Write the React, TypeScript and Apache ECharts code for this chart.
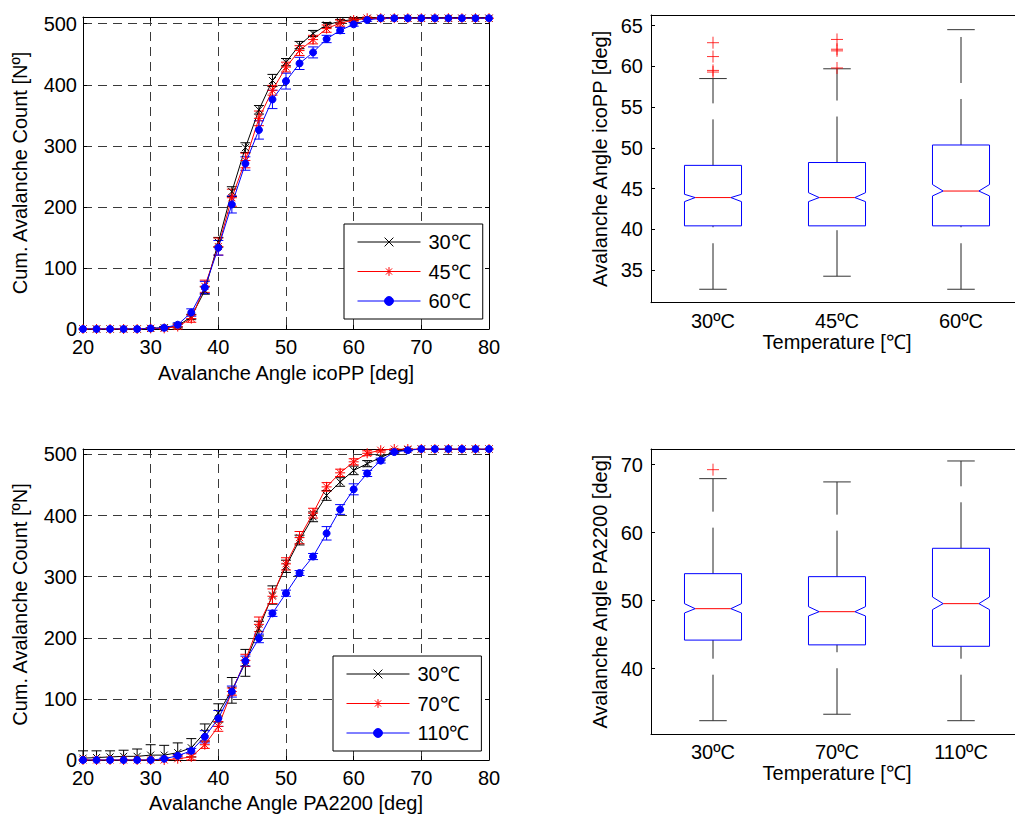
import React, { useEffect, useRef } from 'react';
import * as echarts from 'echarts';

// ---------- data ----------
const angles = [20, 22, 24, 26, 28, 30, 32, 34, 36, 38, 40, 42, 44, 46, 48, 50, 52, 54, 56, 58, 60, 62, 64, 66, 68, 70, 72, 74, 76, 78, 80];

// icoPP cumulative avalanche counts
const ico30 = [0, 0, 0, 0, 0, 1, 2, 5, 20, 63, 142, 225, 297, 359, 407, 437, 465, 484, 498, 504, 507, 509, 509, 509, 509, 509, 509, 509, 509, 509, 509];
const ico30Err = [0, 0, 0, 0, 0, 1, 2, 3, 4, 6, 8, 8, 8, 7, 10, 6, 6, 5, 4, 3, 2, 1, 0, 0, 0, 0, 0, 0, 0, 0, 0];
const ico45 = [0, 0, 0, 0, 0, 1, 1, 4, 17, 70, 135, 215, 276, 345, 391, 429, 456, 474, 492, 501, 506, 509, 509, 509, 509, 509, 509, 509, 509, 509, 509];
const ico45Err = [0, 0, 0, 0, 0, 0, 1, 4, 6, 10, 14, 14, 12, 12, 8, 8, 8, 7, 6, 5, 3, 2, 1, 0, 0, 0, 0, 0, 0, 0, 0];
const ico60 = [0, 0, 0, 0, 0, 1, 2, 7, 27, 68, 133, 204, 271, 326, 376, 406, 435, 453, 475, 489, 499, 506, 509, 509, 509, 509, 509, 509, 509, 509, 509];
const ico60Err = [0, 0, 0, 0, 0, 0, 1, 3, 6, 10, 12, 14, 11, 15, 15, 13, 10, 9, 6, 5, 3, 2, 0, 0, 0, 0, 0, 0, 0, 0, 0];

// PA2200 cumulative avalanche counts
const pa30 = [3, 4, 5, 6, 6, 8, 8, 12, 20, 45, 77, 114, 159, 215, 270, 317, 360, 398, 433, 455, 474, 485, 495, 505, 508, 509, 509, 509, 509, 509, 509];
const pa30Err = [12, 11, 10, 10, 12, 17, 16, 16, 15, 14, 15, 21, 22, 12, 15, 10, 8, 8, 8, 7, 7, 5, 4, 2, 1, 0, 0, 0, 0, 0, 0];
const pa70 = [0, 0, 0, 0, 0, 0, 0, 2, 5, 25, 55, 112, 163, 222, 268, 321, 364, 404, 447, 470, 488, 502, 507, 509, 509, 509, 509, 509, 509, 509, 509];
const pa70Err = [0, 0, 0, 0, 0, 0, 0, 5, 5, 6, 8, 6, 10, 12, 12, 10, 10, 8, 7, 6, 5, 4, 3, 2, 1, 0, 0, 0, 0, 0, 0];
const pa110 = [0, 0, 0, 0, 0, 0, 2, 7, 15, 38, 68, 112, 162, 199, 240, 273, 306, 333, 371, 410, 443, 469, 490, 504, 507, 509, 509, 509, 509, 509, 509];
const pa110Err = [0, 0, 0, 0, 0, 0, 1, 2, 4, 10, 13, 9, 8, 7, 5, 5, 4, 5, 11, 8, 9, 5, 4, 2, 1, 0, 0, 0, 0, 0, 0];

const countTicks = [0, 100, 200, 300, 400, 500];

// Box plots: [lower whisker, Q1, notch low, median, notch high, Q3, upper whisker]
const icoCats = ['30ºC', '45ºC', '60ºC'];
const icoBoxes = [
  [32.65, 40.43, 43.4, 43.9, 44.3, 47.85, 58.5],
  [34.25, 40.43, 43.4, 43.9, 44.5, 48.2, 59.7],
  [32.65, 40.43, 44.1, 44.7, 45.5, 50.35, 64.5],
];
const icoOutliers = [[0, 62.9], [0, 61.2], [0, 59.5], [0, 59.3], [1, 63.3], [1, 62.1], [1, 61.9], [1, 59.8]];
const icoTicks = [35, 40, 45, 50, 55, 60, 65];

const paCats = ['30ºC', '70ºC', '110ºC'];
const paBoxes = [
  [32.35, 44.2, 48.19, 48.82, 49.56, 53.97, 67.94],
  [33.3, 43.5, 47.75, 48.38, 49.12, 53.53, 67.46],
  [32.35, 43.29, 48.68, 49.56, 50.54, 57.7, 70.54],
];
const paOutliers = [[0, 69.26]];
const paTicks = [40, 50, 60, 70];

// ---------- styling ----------
const FONT = '"Liberation Sans", Arial, Helvetica, sans-serif';
const FS = 20;
const GRIDLINE = { show: true, lineStyle: { color: '#3a3a3a', width: 1, type: [9, 6] as any } };
const SYM_X = 'path://M0,0L10,10M0,10L10,0';
const SYM_STAR = 'path://M5,0L5,10M0,5L10,5M1.5,1.5L8.5,8.5M1.5,8.5L8.5,1.5';
const SYM_PLUS = 'path://M6,0L6,12M0,6L12,6';

const label = (extra: any = {}) => ({ color: '#000', fontSize: FS, fontFamily: FONT, ...extra });

function lineXAxes(grid: number, name: string, nameGap: number) {
  return [
    {
      type: 'value', gridIndex: grid, min: 20, max: 80, interval: 10, position: 'bottom',
      axisLine: { show: true, onZero: false, lineStyle: { color: '#000', width: 1 } },
      axisTick: { show: true, inside: true, length: 4, lineStyle: { color: '#000' } },
      axisLabel: label({ margin: 8 }),
      splitLine: GRIDLINE,
      name, nameLocation: 'middle', nameGap, nameTextStyle: label(),
    },
    {
      type: 'value', gridIndex: grid, min: 20, max: 80, interval: 10, position: 'top',
      axisLine: { show: true, onZero: false, lineStyle: { color: '#000', width: 1 } },
      axisTick: { show: true, inside: true, length: 4, lineStyle: { color: '#000' } },
      axisLabel: { show: false }, splitLine: { show: false },
    },
  ];
}

function lineYAxes(grid: number, max: number, name: string) {
  return [
    {
      type: 'value', gridIndex: grid, min: 0, max, position: 'left',
      axisLine: { show: true, onZero: false, lineStyle: { color: '#000', width: 1 } },
      axisTick: { show: true, inside: true, length: 4, customValues: countTicks, lineStyle: { color: '#000' } },
      axisLabel: label({ margin: 6, customValues: countTicks }),
      splitLine: GRIDLINE,
      name, nameLocation: 'middle', nameGap: 53, nameTextStyle: label(),
    },
    {
      type: 'value', gridIndex: grid, min: 0, max, position: 'right',
      axisLine: { show: true, onZero: false, lineStyle: { color: '#000', width: 1 } },
      axisTick: { show: true, inside: true, length: 4, customValues: countTicks, lineStyle: { color: '#000' } },
      axisLabel: { show: false }, splitLine: { show: false },
    },
  ];
}

function curve(name: string, vals: number[], color: string, symbol: string, size: number) {
  return {
    type: 'line', name,
    data: angles.map((a, i) => [a, vals[i]]),
    symbol, symbolSize: size, showSymbol: true,
    lineStyle: { color, width: 1 },
    itemStyle: { color, borderColor: color, borderWidth: 1 },
    emphasis: { disabled: true },
    z: 3,
  };
}

function errorBars(name: string, vals: number[], errs: number[], color: string, ymax: number) {
  return {
    type: 'custom', name,
    data: angles.map((a, i) => [a, vals[i], errs[i]]),
    encode: { x: 0, y: 1 },
    silent: true, z: 3,
    renderItem: (_p: any, api: any) => {
      const x = api.value(0), y = api.value(1), e = api.value(2);
      if (!e) return null;
      const hiV = Math.min(ymax, y + e), loV = Math.max(0, y - e);
      const hi = api.coord([x, hiV]), lo = api.coord([x, loV]);
      const hw = 5;
      const st = { stroke: color, lineWidth: 1 };
      const children: any[] = [
        { type: 'line', shape: { x1: hi[0], y1: hi[1], x2: lo[0], y2: lo[1] }, style: st },
      ];
      if (y + e <= ymax) children.push({ type: 'line', shape: { x1: hi[0] - hw, y1: hi[1], x2: hi[0] + hw, y2: hi[1] }, style: st });
      if (y - e >= 0) children.push({ type: 'line', shape: { x1: lo[0] - hw, y1: lo[1], x2: lo[0] + hw, y2: lo[1] }, style: st });
      return { type: 'group', children };
    },
  };
}

function boxXAxes(grid: number, cats: string[]) {
  return [
    {
      type: 'category', gridIndex: grid, data: cats, position: 'bottom',
      axisLine: { show: true, onZero: false, lineStyle: { color: '#000', width: 1 } },
      axisTick: { show: false },
      axisLabel: label({ margin: 8 }),
      name: 'Temperature [℃]', nameLocation: 'middle', nameGap: 29, nameTextStyle: label(),
    },
    {
      type: 'category', gridIndex: grid, data: cats, position: 'top',
      axisLine: { show: true, onZero: false, lineStyle: { color: '#000', width: 1 } },
      axisTick: { show: false }, axisLabel: { show: false },
    },
  ];
}

function boxYAxis(grid: number, min: number, max: number, ticks: number[], name: string) {
  return {
    type: 'value', gridIndex: grid, min, max, position: 'left',
    axisLine: { show: true, onZero: false, lineStyle: { color: '#000', width: 1 } },
    axisTick: { show: true, inside: true, length: 4, customValues: ticks, lineStyle: { color: '#000' } },
    axisLabel: label({ margin: 8, customValues: ticks }),
    splitLine: { show: false },
    name, nameLocation: 'middle', nameGap: 41, nameTextStyle: label(),
  };
}

function boxSeries(xAxis: number, yAxis: number, boxes: number[][]) {
  return {
    type: 'custom', xAxisIndex: xAxis, yAxisIndex: yAxis,
    data: boxes.map((b, i) => [i, ...b]),
    encode: { x: 0, y: [1, 2, 3, 4, 5, 6, 7] },
    silent: true,
    renderItem: (_p: any, api: any) => {
      const c = api.value(0);
      const v = [1, 2, 3, 4, 5, 6, 7].map((k) => api.value(k));
      const [lw, q1, nlo, med, nhi, q3, uw] = v;
      const band = api.size([1, 0])[0];
      const hw = band * 0.23, nw = band * 0.144, cw = band * 0.111;
      const x = api.coord([c, med])[0];
      const y = (val: number) => api.coord([c, val])[1];
      const wst = { stroke: '#222', lineWidth: 1, lineDash: [46, 16], fill: 'none' };
      const cst = { stroke: '#333', lineWidth: 1 };
      return {
        type: 'group',
        children: [
          { type: 'line', shape: { x1: x, y1: y(q3), x2: x, y2: y(uw) }, style: wst },
          { type: 'line', shape: { x1: x, y1: y(lw), x2: x, y2: y(q1) }, style: wst },
          { type: 'line', shape: { x1: x - cw, y1: y(uw), x2: x + cw, y2: y(uw) }, style: cst },
          { type: 'line', shape: { x1: x - cw, y1: y(lw), x2: x + cw, y2: y(lw) }, style: cst },
          {
            type: 'polygon',
            shape: {
              points: [
                [x - hw, y(q1)], [x - hw, y(nlo)], [x - nw, y(med)], [x - hw, y(nhi)], [x - hw, y(q3)],
                [x + hw, y(q3)], [x + hw, y(nhi)], [x + nw, y(med)], [x + hw, y(nlo)], [x + hw, y(q1)],
              ],
            },
            style: { fill: 'none', stroke: '#0000ff', lineWidth: 1 },
          },
          { type: 'line', shape: { x1: x - nw, y1: y(med), x2: x + nw, y2: y(med) }, style: { stroke: '#ff0000', lineWidth: 1 } },
        ],
      };
    },
  };
}

function outlierSeries(xAxis: number, yAxis: number, pts: number[][]) {
  return {
    type: 'scatter', xAxisIndex: xAxis, yAxisIndex: yAxis, data: pts,
    symbol: SYM_PLUS, symbolSize: 12,
    itemStyle: { color: '#ff0000', borderColor: '#ff0000', borderWidth: 1 },
    silent: true, z: 4,
  };
}

function legendCfg(names: string[], left: number, top: number) {
  return {
    data: names, left, top, orient: 'vertical',
    backgroundColor: '#fff', borderColor: '#000', borderWidth: 1,
    padding: [8, 12, 8, 13], itemGap: 9.5, itemWidth: 63, itemHeight: 11,
    selectedMode: false,
    lineStyle: { width: 1 },
    itemStyle: { borderWidth: 1 },
    textStyle: { color: '#000', fontSize: FS, fontFamily: FONT, lineHeight: 20, padding: [0, 0, 0, 3] },
  };
}

function buildOption(): any {
  const xAxis = [
    ...lineXAxes(0, 'Avalanche Angle icoPP [deg]', 34),
    ...lineXAxes(1, 'Avalanche Angle PA2200 [deg]', 33),
    ...boxXAxes(2, icoCats),
    ...boxXAxes(3, paCats),
  ];
  const yAxis = [
    ...lineYAxes(0, 511, 'Cum. Avalanche Count [Nº]'),
    ...lineYAxes(1, 509, 'Cum. Avalanche Count [ºN]'),
    boxYAxis(2, 31, 66.3, icoTicks, 'Avalanche Angle icoPP [deg]'),
    boxYAxis(3, 30.35, 72.3, paTicks, 'Avalanche Angle PA2200 [deg]'),
  ];
  // axis indices: x: 0 bottom-0, 1 top-0, 2 bottom-1, 3 top-1, 4 box2, 5 top box2, 6 box3, 7 top box3
  // y: 0 left-0, 1 right-0, 2 left-1, 3 right-1, 4 box2, 5 box3
  const s: any[] = [];
  const addPair = (name: string, ai: number, vals: number[], errs: number[], color: string, sym: string, size: number, ymax: number) => {
    s.push({ ...errorBars(name + ' err', vals, errs, color, ymax), xAxisIndex: ai, yAxisIndex: ai });
    s.push({ ...curve(name, vals, color, sym, size), xAxisIndex: ai, yAxisIndex: ai });
  };
  addPair('30℃', 0, ico30, ico30Err, '#000000', SYM_X, 7, 511);
  addPair('45℃', 0, ico45, ico45Err, '#ff0000', SYM_STAR, 10, 511);
  addPair('60℃', 0, ico60, ico60Err, '#0000ff', 'circle', 7, 511);
  addPair('30℃', 2, pa30, pa30Err, '#000000', SYM_X, 7, 509);
  addPair('70℃', 2, pa70, pa70Err, '#ff0000', SYM_STAR, 10, 509);
  addPair('110℃', 2, pa110, pa110Err, '#0000ff', 'circle', 7, 509);
  s.push(boxSeries(4, 4, icoBoxes));
  s.push(outlierSeries(4, 4, icoOutliers));
  s.push(boxSeries(6, 5, paBoxes));
  s.push(outlierSeries(6, 5, paOutliers));

  return {
    animation: false,
    backgroundColor: '#fff',
    textStyle: { fontFamily: FONT },
    grid: [
      { left: 83, top: 17, width: 406, height: 312, outerBoundsMode: 'none' },
      { left: 83, top: 449, width: 406, height: 311, outerBoundsMode: 'none' },
      { left: 651, top: 15, width: 372, height: 287.7, outerBoundsMode: 'none' },
      { left: 651, top: 449, width: 372, height: 285.3, outerBoundsMode: 'none' },
    ],
    xAxis,
    yAxis,
    legend: [legendCfg(['30℃', '45℃', '60℃'], 344, 224), legendCfg(['30℃', '70℃', '110℃'], 333, 656)],
    series: s,
  };
}

export default function App() {
  const ref = useRef<HTMLDivElement>(null);
  useEffect(() => {
    document.body.style.margin = '0';
    const chart = echarts.init(ref.current!, null, { renderer: 'svg' });
    chart.setOption(buildOption());
    return () => chart.dispose();
  }, []);
  return <div ref={ref} style={{ width: 1015, height: 814, background: '#fff' }} />;
}
